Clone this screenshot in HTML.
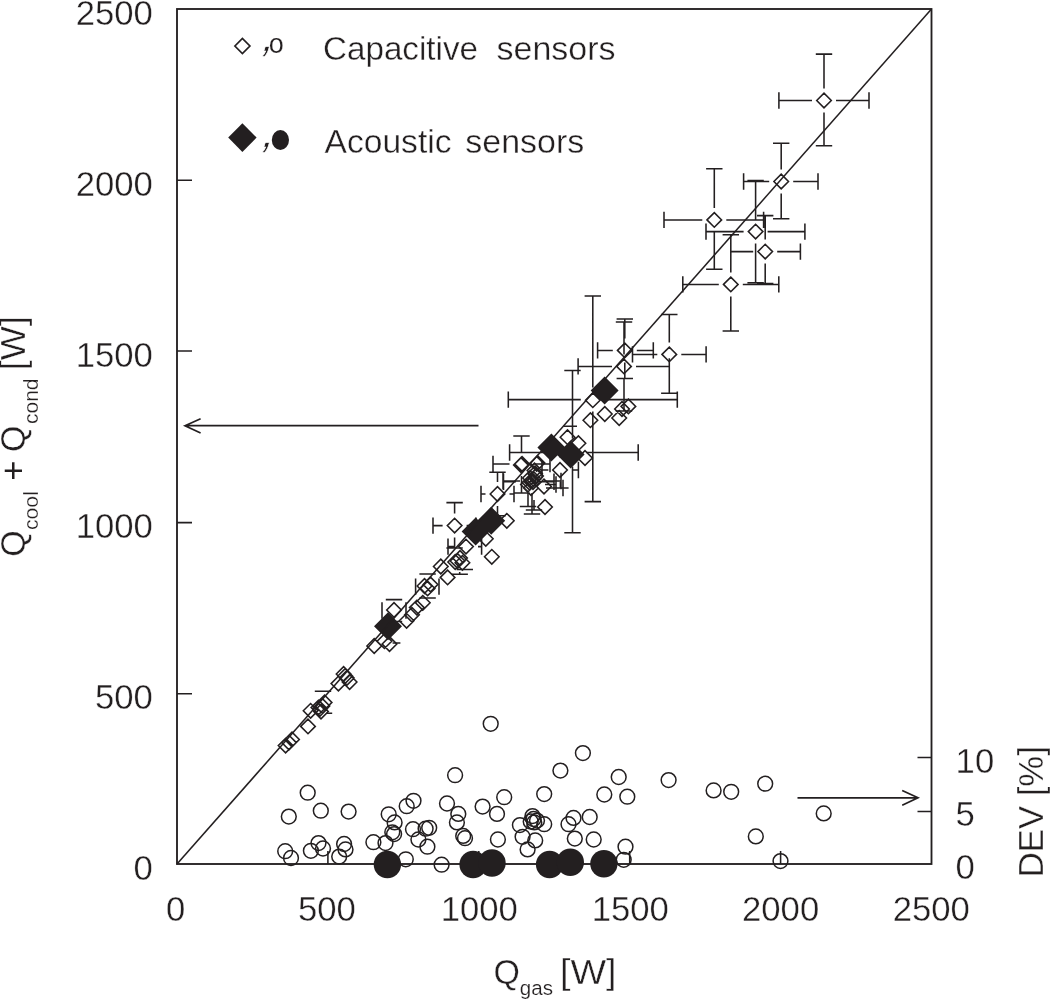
<!DOCTYPE html>
<html lang="en"><head><meta charset="utf-8"><title>Heat balance: Qcool + Qcond vs Qgas</title>
<style>
html,body{margin:0;padding:0;background:#fff;}
body{width:1050px;height:1000px;overflow:hidden;}
svg{display:block;}
text{font-family:"Liberation Sans",Arial,Helvetica,sans-serif;fill:#231f20;stroke:#fff;stroke-width:0.36px;}
.t{font-size:34px;}.s{font-size:20px;stroke-width:0.2px;}.n{stroke:none;}
.ln{stroke:#231f20;stroke-width:1.55;fill:none;}
.od{stroke:#231f20;stroke-width:1.55;fill:none;}
.oc{stroke:#231f20;stroke-width:1.5;fill:none;}
.fk{fill:#231f20;stroke:none;}
</style></head><body>
<svg width="1050" height="1000" viewBox="0 0 1050 1000">
<rect width="1050" height="1000" fill="#fff"/>
<g id="frame">
<rect class="ln" style="stroke-width:1.85" x="177" y="9" width="754.5" height="855"/>
<path class="ln" d="M177 180.2h15M177 351h15M177 522.6h15M177 693.8h15M327.9 864v-13M478.8 864v-13M629.7 864v-13M780.6 864v-13M931.5 757.5h-14M931.5 811.4h-14"/>
</g>
<g id="errorbars">
<path class="ln" d="M778.9 100.5H812M778.9 92.3v16.4M836 100.5H869M869 92.3v16.4M824 54.1V88.5M815.8 54.1h16.4M824 112.5V145.7M815.8 145.7h16.4M743.6 181.5H769.2M743.6 173.3v16.4M793.2 181.5H818M818 173.3v16.4M781.2 143.3V169.5M773 143.3h16.4M781.2 193.5V218.8M773 218.8h16.4M664 219.9H702.3M664 211.7v16.4M726.3 219.9H763.6M763.6 211.7v16.4M714.3 168.7V207.9M706.1 168.7h16.4M714.3 231.9V269.2M706.1 269.2h16.4M706 231.6H743.6M706 223.4v16.4M767.6 231.6H804.9M804.9 223.4v16.4M755.6 180.4V219.6M747.4 180.4h16.4M755.6 243.6V282.8M747.4 282.8h16.4M730.8 251.6H753.2M730.8 243.4v16.4M777.2 251.6H800.4M800.4 243.4v16.4M765.2 215.6V239.6M757 215.6h16.4M765.2 263.6V283.6M757 283.6h16.4M682.8 284.4H718.8M682.8 276.2v16.4M742.8 284.4H778.8M778.8 276.2v16.4M730.8 234.8V272.4M722.6 234.8h16.4M730.8 296.4V331M722.6 331h16.4M632.5 354.4H657.3M632.5 346.2v16.4M681.3 354.4H706.1M706.1 346.2v16.4M669.3 314.4V342.4M661.1 314.4h16.4M669.3 366.4V393.3M661.1 393.3h16.4M597.6 350.4H612.8M597.6 342.2v16.4M636.8 350.4H653.3M653.3 342.2v16.4M624.8 318.9V338.4M616.6 318.9h16.4M624.8 362.4V378.4M616.6 378.4h16.4M578.1 366.4H612M578.1 358.2v16.4M636 366.4H669.3M669.3 358.2v16.4M624 321.9V354.4M615.8 321.9h16.4M624 378.4V411M615.8 411h16.4M508.3 399.6H580.8M508.3 391.4v16.4M604.8 399.6H677.3M677.3 391.4v16.4M592.8 296V387.6M584.6 296h16.4M592.8 411.6V501.6M584.6 501.6h16.4M493 464H509.5M493 455.8v16.4M533.5 464H550M550 455.8v16.4M521.5 436V452M513.3 436h16.4M521.5 476V493M513.3 493h16.4M481 494H485.5M481 485.8v16.4M509.5 494H514M514 485.8v16.4M497.5 472.3V482M489.3 472.3h16.4M497.5 506V515.7M489.3 515.7h16.4M503 481H520M503 472.8v16.4M544 481H561M561 472.8v16.4M532 493V514M523.8 514h16.4M503.5 481.8H516M503.5 473.6v16.4M540 481.8H554M554 473.6v16.4M528 493.8V506.5M519.8 506.5h16.4M545 484.5H556M556 476.3v16.4M546 488H563M563 479.8v16.4M534 500V510M525.8 510h16.4M433 525.6H442.6M433 517.4v16.4M466.6 525.6H476M476 517.4v16.4M454.6 502.6V513.6M446.4 502.6h16.4M454.6 537.6V548M446.4 548h16.4M464.8 569V569.4M456.6 569.4h16.4M459.7 572V574.2M451.5 574.2h16.4M448 546.6H454M448 538.4v16.4M478 546.6H481.6M481.6 538.4v16.4M415.6 578.4v16.4M439 578.4v16.4M427.6 574V574.6M419.4 574h16.4M419.4 598h16.4M382 602.3v16.4M406 602.3v16.4M385.8 599.6h16.4M385.8 621.5h16.4M314.8 691.2h16.4M542 470H548.4M542 461.8v16.4M572.4 470H578.4M578.4 461.8v16.4M560.4 452V458M552.2 452h16.4M560.4 482V488M552.2 488h16.4M563.5 426.3h13.5M392.6 643h7.8M326.6 713.2h5.6"/>
<path class="ln" d="M509.6 452.5H558.5M509.6 444.3v16.4M586.5 452.5H638.2M638.2 444.3v16.4M572.5 370.4V438.5M564.3 370.4h16.4M572.5 466.5V532.8M564.3 532.8h16.4"/>
</g>
<g id="dev-capacitive">
<circle class="oc" cx="307.7" cy="792.7" r="7.4"/>
<circle class="oc" cx="288.8" cy="816.6" r="7.4"/>
<circle class="oc" cx="320.8" cy="810.7" r="7.4"/>
<circle class="oc" cx="348.6" cy="811.6" r="7.4"/>
<circle class="oc" cx="285.2" cy="851.2" r="7.4"/>
<circle class="oc" cx="291" cy="858" r="7.4"/>
<circle class="oc" cx="310.9" cy="850.8" r="7.4"/>
<circle class="oc" cx="318.5" cy="843.1" r="7.4"/>
<circle class="oc" cx="323" cy="848.5" r="7.4"/>
<circle class="oc" cx="344.1" cy="844" r="7.4"/>
<circle class="oc" cx="345.5" cy="849.4" r="7.4"/>
<circle class="oc" cx="339.2" cy="856.6" r="7.4"/>
<circle class="oc" cx="373.4" cy="842.2" r="7.4"/>
<circle class="oc" cx="385.5" cy="843.1" r="7.4"/>
<circle class="oc" cx="388.7" cy="814.3" r="7.4"/>
<circle class="oc" cx="394.6" cy="822.4" r="7.4"/>
<circle class="oc" cx="392.3" cy="832.3" r="7.4"/>
<circle class="oc" cx="394.1" cy="834.1" r="7.4"/>
<circle class="oc" cx="406.7" cy="806.2" r="7.4"/>
<circle class="oc" cx="413.5" cy="800.8" r="7.4"/>
<circle class="oc" cx="413" cy="829.2" r="7.4"/>
<circle class="oc" cx="418.4" cy="839.5" r="7.4"/>
<circle class="oc" cx="425.6" cy="828.7" r="7.4"/>
<circle class="oc" cx="429.2" cy="827.8" r="7.4"/>
<circle class="oc" cx="427.4" cy="846.7" r="7.4"/>
<circle class="oc" cx="405.8" cy="859.3" r="7.4"/>
<circle class="oc" cx="441.6" cy="864.7" r="7.4"/>
<circle class="oc" cx="490.7" cy="723.8" r="7.4"/>
<circle class="oc" cx="582.9" cy="753.1" r="7.4"/>
<circle class="oc" cx="560.4" cy="770.6" r="7.4"/>
<circle class="oc" cx="455.1" cy="775.2" r="7.4"/>
<circle class="oc" cx="544.2" cy="794.1" r="7.4"/>
<circle class="oc" cx="504.2" cy="797.2" r="7.4"/>
<circle class="oc" cx="447" cy="803.5" r="7.4"/>
<circle class="oc" cx="482.6" cy="806.6" r="7.4"/>
<circle class="oc" cx="497" cy="813.9" r="7.4"/>
<circle class="oc" cx="458.3" cy="813.9" r="7.4"/>
<circle class="oc" cx="456.9" cy="822.4" r="7.4"/>
<circle class="oc" cx="463.2" cy="835.9" r="7.4"/>
<circle class="oc" cx="465" cy="838.2" r="7.4"/>
<circle class="oc" cx="497.9" cy="839.5" r="7.4"/>
<circle class="oc" cx="519.9" cy="825.1" r="7.4"/>
<circle class="oc" cx="522.6" cy="836.8" r="7.4"/>
<circle class="oc" cx="527.6" cy="849.4" r="7.4"/>
<circle class="oc" cx="535.2" cy="840.4" r="7.4"/>
<circle class="oc" cx="532.5" cy="816.1" r="7.4"/>
<circle class="oc" cx="534.3" cy="822.4" r="7.4"/>
<circle class="oc" cx="537" cy="820.6" r="7.4"/>
<circle class="oc" cx="530.7" cy="821.5" r="7.4"/>
<circle class="oc" cx="533.5" cy="819" r="7.4"/>
<circle class="oc" cx="544.2" cy="824.2" r="7.4"/>
<circle class="oc" cx="568.5" cy="824.2" r="7.4"/>
<circle class="oc" cx="573.5" cy="817.9" r="7.4"/>
<circle class="oc" cx="589.7" cy="817" r="7.4"/>
<circle class="oc" cx="574.8" cy="838.6" r="7.4"/>
<circle class="oc" cx="593.7" cy="839.5" r="7.4"/>
<circle class="oc" cx="618.7" cy="777" r="7.4"/>
<circle class="oc" cx="604.3" cy="794.5" r="7.4"/>
<circle class="oc" cx="627.3" cy="796.7" r="7.4"/>
<circle class="oc" cx="668.6" cy="780.1" r="7.4"/>
<circle class="oc" cx="713.6" cy="790.4" r="7.4"/>
<circle class="oc" cx="731.2" cy="791.8" r="7.4"/>
<circle class="oc" cx="765.2" cy="783.7" r="7.4"/>
<circle class="oc" cx="625.5" cy="846.7" r="7.4"/>
<circle class="oc" cx="623.7" cy="859.8" r="7.4"/>
<circle class="oc" cx="755.8" cy="836.4" r="7.4"/>
<circle class="oc" cx="823.7" cy="813.4" r="7.4"/>
<circle class="oc" cx="780.5" cy="861.1" r="7.4"/>
</g>
<g id="capacitive">
<path class="od" d="M278.3 745.6l7.3 -7.3l7.3 7.3l-7.3 7.3zM281.7 742.6l7.3 -7.3l7.3 7.3l-7.3 7.3zM284.7 739.5l7.3 -7.3l7.3 7.3l-7.3 7.3zM300.7 726.4l7.3 -7.3l7.3 7.3l-7.3 7.3zM303.3 710.8l7.3 -7.3l7.3 7.3l-7.3 7.3zM312.7 708.8l7.3 -7.3l7.3 7.3l-7.3 7.3zM317.3 702.4l7.3 -7.3l7.3 7.3l-7.3 7.3zM313.7 711.6l7.3 -7.3l7.3 7.3l-7.3 7.3zM311.1 707.6l7.3 -7.3l7.3 7.3l-7.3 7.3zM315.1 706l7.3 -7.3l7.3 7.3l-7.3 7.3zM331.1 683.6l7.3 -7.3l7.3 7.3l-7.3 7.3zM336.3 674l7.3 -7.3l7.3 7.3l-7.3 7.3zM337.9 676l7.3 -7.3l7.3 7.3l-7.3 7.3zM339.5 678l7.3 -7.3l7.3 7.3l-7.3 7.3zM342.3 682l7.3 -7.3l7.3 7.3l-7.3 7.3zM366.9 646l7.3 -7.3l7.3 7.3l-7.3 7.3zM377.1 641.2l7.3 -7.3l7.3 7.3l-7.3 7.3zM382.2 644l7.3 -7.3l7.3 7.3l-7.3 7.3zM386.7 610l7.3 -7.3l7.3 7.3l-7.3 7.3zM399.3 620.8l7.3 -7.3l7.3 7.3l-7.3 7.3zM404.7 614.8l7.3 -7.3l7.3 7.3l-7.3 7.3zM409.5 607.6l7.3 -7.3l7.3 7.3l-7.3 7.3zM415.5 602.8l7.3 -7.3l7.3 7.3l-7.3 7.3zM420.3 588.4l7.3 -7.3l7.3 7.3l-7.3 7.3zM417.2 586l7.3 -7.3l7.3 7.3l-7.3 7.3zM423.2 584.5l7.3 -7.3l7.3 7.3l-7.3 7.3zM433.5 566.5l7.3 -7.3l7.3 7.3l-7.3 7.3zM440.3 577.4l7.3 -7.3l7.3 7.3l-7.3 7.3zM447.9 562l7.3 -7.3l7.3 7.3l-7.3 7.3zM450.3 561l7.3 -7.3l7.3 7.3l-7.3 7.3zM452.7 558l7.3 -7.3l7.3 7.3l-7.3 7.3zM455.1 562.8l7.3 -7.3l7.3 7.3l-7.3 7.3zM458.7 546.6l7.3 -7.3l7.3 7.3l-7.3 7.3zM447.3 525.6l7.3 -7.3l7.3 7.3l-7.3 7.3zM478.5 538.8l7.3 -7.3l7.3 7.3l-7.3 7.3zM484.5 556.8l7.3 -7.3l7.3 7.3l-7.3 7.3zM499.5 520.8l7.3 -7.3l7.3 7.3l-7.3 7.3zM490.2 494l7.3 -7.3l7.3 7.3l-7.3 7.3zM514.2 464.5l7.3 -7.3l7.3 7.3l-7.3 7.3zM514.8 464l7.3 -7.3l7.3 7.3l-7.3 7.3zM513.6 465l7.3 -7.3l7.3 7.3l-7.3 7.3zM530.2 463l7.3 -7.3l7.3 7.3l-7.3 7.3zM529.3 463.8l7.3 -7.3l7.3 7.3l-7.3 7.3zM522.7 478l7.3 -7.3l7.3 7.3l-7.3 7.3zM525.7 482l7.3 -7.3l7.3 7.3l-7.3 7.3zM528.7 476l7.3 -7.3l7.3 7.3l-7.3 7.3zM520.7 484.5l7.3 -7.3l7.3 7.3l-7.3 7.3zM527.2 470.5l7.3 -7.3l7.3 7.3l-7.3 7.3zM523.7 488l7.3 -7.3l7.3 7.3l-7.3 7.3zM524.7 480l7.3 -7.3l7.3 7.3l-7.3 7.3zM523.9 481.4l7.3 -7.3l7.3 7.3l-7.3 7.3zM526.3 479l7.3 -7.3l7.3 7.3l-7.3 7.3zM522.1 482.6l7.3 -7.3l7.3 7.3l-7.3 7.3zM527.7 473.5l7.3 -7.3l7.3 7.3l-7.3 7.3zM536.7 486.5l7.3 -7.3l7.3 7.3l-7.3 7.3zM537.7 507l7.3 -7.3l7.3 7.3l-7.3 7.3zM552.7 470l7.3 -7.3l7.3 7.3l-7.3 7.3zM560.2 437.2l7.3 -7.3l7.3 7.3l-7.3 7.3zM571.1 443.2l7.3 -7.3l7.3 7.3l-7.3 7.3zM577.7 458l7.3 -7.3l7.3 7.3l-7.3 7.3zM583.1 420.2l7.3 -7.3l7.3 7.3l-7.3 7.3zM597.5 414l7.3 -7.3l7.3 7.3l-7.3 7.3zM611.9 418l7.3 -7.3l7.3 7.3l-7.3 7.3zM621.1 406.4l7.3 -7.3l7.3 7.3l-7.3 7.3zM614.7 409l7.3 -7.3l7.3 7.3l-7.3 7.3zM585.5 400.2l7.3 -7.3l7.3 7.3l-7.3 7.3zM617.5 350.4l7.3 -7.3l7.3 7.3l-7.3 7.3zM616.7 366.4l7.3 -7.3l7.3 7.3l-7.3 7.3zM662 354.4l7.3 -7.3l7.3 7.3l-7.3 7.3zM723.5 284.4l7.3 -7.3l7.3 7.3l-7.3 7.3zM757.9 251.6l7.3 -7.3l7.3 7.3l-7.3 7.3zM748.3 231.6l7.3 -7.3l7.3 7.3l-7.3 7.3zM707 219.9l7.3 -7.3l7.3 7.3l-7.3 7.3zM773.9 181.5l7.3 -7.3l7.3 7.3l-7.3 7.3zM816.7 100.5l7.3 -7.3l7.3 7.3l-7.3 7.3z"/>
</g>
<g id="acoustic">
<path class="fk" d="M374 626.2l14 -14l14 14l-14 14zM461.6 531.6l14 -14l14 14l-14 14zM477.2 520.8l14 -14l14 14l-14 14zM537.4 447.6l14 -14l14 14l-14 14zM556.6 454.6l14 -14l14 14l-14 14zM590.6 390.6l14 -14l14 14l-14 14z"/>
<circle class="fk" cx="387.4" cy="864.5" r="13.7"/>
<circle class="fk" cx="473.1" cy="864.5" r="13.7"/>
<circle class="fk" cx="492" cy="863" r="13.7"/>
<circle class="fk" cx="549.6" cy="864.5" r="13.7"/>
<circle class="fk" cx="570.3" cy="862.2" r="13.7"/>
<circle class="fk" cx="603.9" cy="863.8" r="13.7"/>
</g>
<path class="ln" d="M177 864L931.5 9"/>
<g id="arrows">
<path class="ln" style="stroke-width:1.7" d="M478.5 425.7H185.4M200.6 418.8L185 425.7L200.6 433"/>
<path class="ln" style="stroke-width:1.7" d="M797.5 797.8H917.6M902.2 790.4L918 797.8L902.2 805.2"/>
</g>
<g id="legend">
<path class="od" style="stroke-width:1.7" d="M234.9 46l7.5 -7.5l7.5 7.5l-7.5 7.5z"/>
<text transform="translate(259.8 51) skewX(-18)" style="font-size:44px;stroke-width:0.7px">,</text><text x="268.8" y="53.3" style="font-size:27px;stroke-width:0.15px">o</text>
<text class="t" x="323" y="60.2" textLength="155" lengthAdjust="spacingAndGlyphs">Capacitive</text>
<text class="t" x="496.5" y="60.2" textLength="119" lengthAdjust="spacingAndGlyphs">sensors</text>
<path class="fk" d="M228.2 137.6l14.2 -14.4l14.2 14.4l-14.2 14.4z"/>
<text transform="translate(259.8 147) skewX(-18)" style="font-size:44px;stroke-width:0.7px">,</text><ellipse class="fk" cx="280.4" cy="140" rx="8.6" ry="10"/>
<text class="t" x="324.5" y="152.6" textLength="127" lengthAdjust="spacingAndGlyphs">Acoustic</text>
<text class="t" x="465.3" y="152.6" textLength="119" lengthAdjust="spacingAndGlyphs">sensors</text>
</g>
<g id="ticklabels">
<text class="t" transform="translate(152.8 24.8) scale(1.02 1.055)" text-anchor="end">2500</text>
<text class="t" transform="translate(152.8 196) scale(1.02 1.055)" text-anchor="end">2000</text>
<text class="t" transform="translate(152.8 366.6) scale(1.02 1.055)" text-anchor="end">1500</text>
<text class="t" transform="translate(152.8 538.2) scale(1.02 1.055)" text-anchor="end">1000</text>
<text class="t" transform="translate(152.8 709.2) scale(1.02 1.055)" text-anchor="end">500</text>
<text class="t" transform="translate(152.8 880) scale(1.02 1.055)" text-anchor="end">0</text>
<text class="t" transform="translate(175.6 921) scale(1.02 1.055)" text-anchor="middle">0</text>
<text class="t" transform="translate(326.9 921) scale(1.02 1.055)" text-anchor="middle">500</text>
<text class="t" transform="translate(479.3 921) scale(1.02 1.055)" text-anchor="middle">1000</text>
<text class="t" transform="translate(630.2 921) scale(1.02 1.055)" text-anchor="middle">1500</text>
<text class="t" transform="translate(780.6 921) scale(1.02 1.055)" text-anchor="middle">2000</text>
<text class="t" transform="translate(931.3 921) scale(1.02 1.055)" text-anchor="middle">2500</text>
<text class="t" transform="translate(955.6 773.2) scale(1.02 1.055)">10</text>
<text class="t" transform="translate(955.6 826.4) scale(1.02 1.055)">5</text>
<text class="t" transform="translate(955.6 879.4) scale(1.02 1.055)">0</text>
</g>
<g id="titles">
<text class="t" transform="translate(493.4 983.6) scale(1.0 1.04)">Q</text>
<text class="s" transform="translate(519.8 995.2) scale(1.03 1.0)">gas</text>
<text class="t" transform="translate(560 983.6) scale(1.11 1.04)">[W]</text>
<g transform="translate(24.6 555) rotate(-90)">
<text class="t" transform="translate(-1.7 0) scale(1.0 1.04)">Q</text>
<text class="s" transform="translate(25 13.2) scale(1.06 1.0)">cool</text>
<text class="t n" transform="translate(74.2 0) scale(1.02 1.02)">+</text>
<text class="t" transform="translate(103 0) scale(1.0 1.04)">Q</text>
<text class="s" transform="translate(131 13.2) scale(1.05 1.0)">cond</text>
<text class="t" transform="translate(184.8 0) scale(1.06 1.04)">[W]</text>
</g>
<g transform="translate(1043 876.6) rotate(-90)">
<text class="t" transform="translate(-0.6 0) scale(1.02 1.04)">DEV [%]</text>
</g>
</g>
</svg></body></html>
